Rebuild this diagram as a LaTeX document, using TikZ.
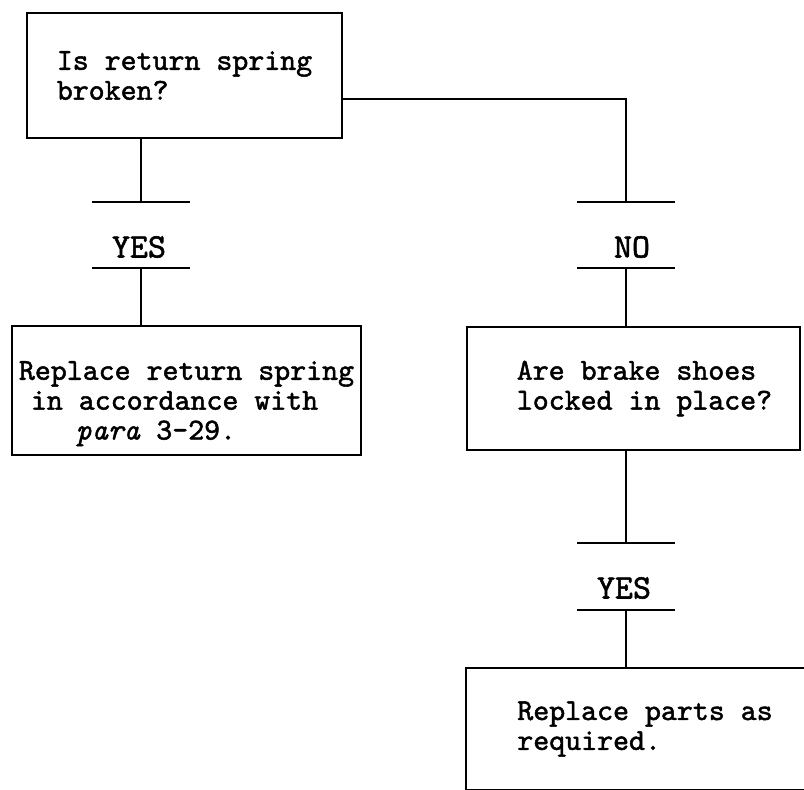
\documentclass[tikz,border=0pt]{standalone}
\usepackage{fontspec}
\newfontfamily\flowfont{lmmono10-regular.otf}[ItalicFont=lmmono10-italic.otf,
  UprightFeatures={FakeBold=1.6}, ItalicFeatures={FakeBold=1.2}]
\usetikzlibrary{positioning}

\tikzset{
  qbox/.style={draw, rectangle, align=left, inner sep=0pt,
    font=\flowfont\fontsize{17.3}{17}\selectfont},
  tee/.style={minimum width=1.92cm, minimum height=0pt, inner sep=0pt},
  answer/.style={inner sep=0pt, font=\flowfont\fontsize{19.5}{20}\selectfont},
}

\begin{document}
\begin{tikzpicture}[x=0.02cm,y=-0.02cm,line width=1.1pt]
                        \clip (0,0) rectangle (804,789);
                        % first question
                        \node[qbox,minimum width=6.3cm,minimum height=2.5cm] (Q1) at (184.5,75.5) {Is return spring\\broken?};
                        % yes branch
                        \node[tee] (T1) at (141,202) {};
                        \node[answer] (Y1) at (139,247) {YES};
                        \node[tee] (T2) at (141,268) {};
                        \node[qbox,minimum width=6.98cm,minimum height=2.58cm] (R1) at (186.5,390.5)
                          {\rule{0pt}{0.9cm}Replace return spring\\\hspace*{0.24cm}in accordance with\\\hspace*{1.14cm}\textit{para} 3-29.};
                        % no branch
                        \node[tee] (T3) at (626,202) {};
                        \node[answer] (N1) at (632,247) {NO};
                        \node[tee] (T4) at (626,268) {};
                        \node[qbox,minimum width=6.66cm,minimum height=2.46cm] (Q2) at (633.5,388.5)
                          {\hspace*{0.44cm}Are brake shoes\\\hspace*{0.44cm}locked in place?};
                        % yes from second question
                        \node[tee] (T5) at (626,543) {};
                        \node[answer] (Y2) at (624,588) {YES};
                        \node[tee] (T6) at (626,610) {};
                        \node[qbox,minimum width=7.16cm,minimum height=2.44cm] (R2) at (645,729)
                          {Replace parts as\\required.};
                        % links
                        \draw (Q1.south -| T1) -- (T1.center);
                        \draw (T1.west) -- (T1.east);
                        \draw (T2.west) -- (T2.east);
                        \draw (T2.center) -- (T2 |- R1.north);
                        \draw ([yshift=-0.47cm]Q1.east) -| (T3.center);
                        \draw (T3.west) -- (T3.east);
                        \draw (T4.west) -- (T4.east);
                        \draw (T4.center) -- (T4 |- Q2.north);
                        \draw (Q2.south -| T5) -- (T5.center);
                        \draw (T5.west) -- (T5.east);
                        \draw (T6.west) -- (T6.east);
                        \draw (T6.center) -- (T6 |- R2.north);
                    \end{tikzpicture}
\end{document}
